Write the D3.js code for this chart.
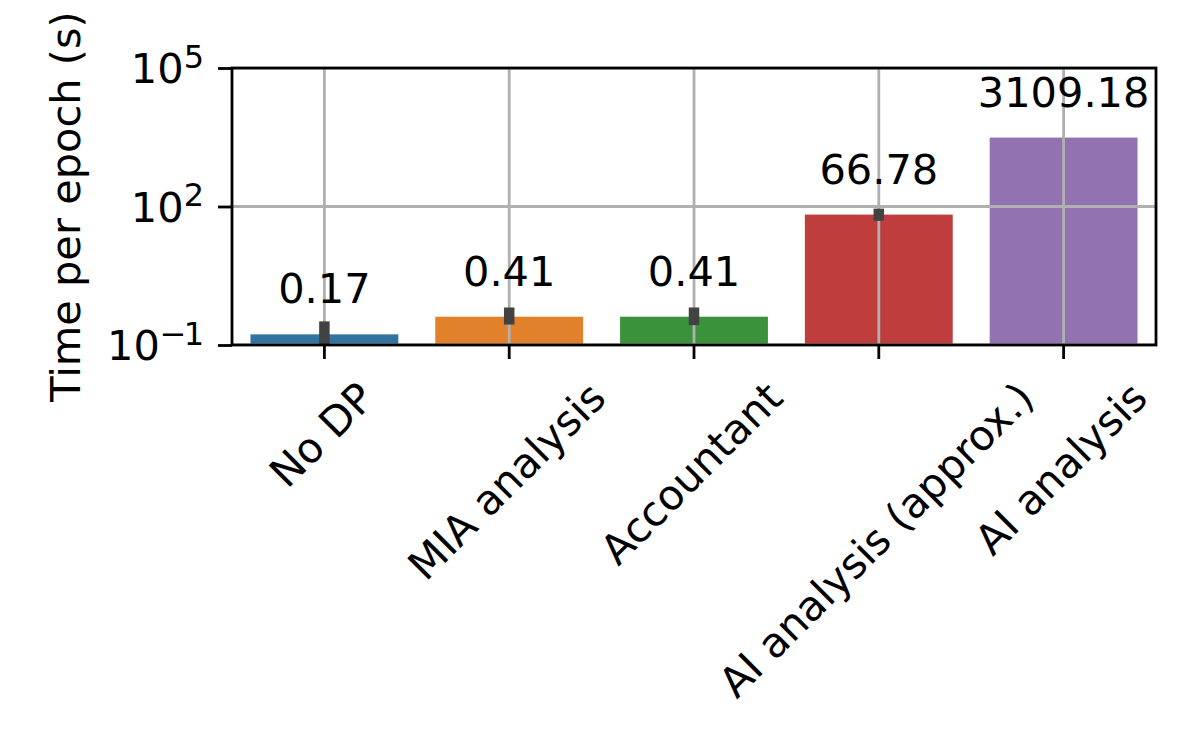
<!DOCTYPE html>
<html>
<head>
<meta charset="utf-8">
<script src="https://cdn.jsdelivr.net/npm/d3@7"></script>
<style>
  body { margin: 0; background: #fff; }
  text { font-family: "DejaVu Sans", sans-serif; }
</style>
</head>
<body>
<svg class="chart"></svg>
<script>
// Data
var categories = ["No DP", "MIA analysis", "Accountant", "AI analysis (approx.)", "AI analysis"];
var meanTime = [0.17, 0.41, 0.41, 66.78, 3109.18];
var errLow = [0.08, 0.36, 0.35, 63.5, null];
var errHigh = [0.25, 0.50, 0.50, 69.2, null];
var yTicks = [0.1, 100, 100000];
var yTickExp = ["\u22121", "2", "5"];
var colors = ["#3274a1", "#e1812c", "#3a923a", "#c03d3e", "#9372b2"];

var data = categories.map(function(c, i) {
  return {name: c, mean: meanTime[i], lo: errLow[i], hi: errHigh[i], color: colors[i]};
});

// Margins and dimensions
var margin = {top: 68, right: 44, bottom: 405, left: 232},
    width = 1200 - margin.left - margin.right,
    height = 750 - margin.top - margin.bottom,
    fs = 41.5;

var x = d3.scaleBand()
    .domain(categories)
    .range([0, width])
    .paddingInner(0.2)
    .paddingOuter(0.1);

var y = d3.scaleLog()
    .domain([0.1, 100000])
    .range([height, 0]);

var svg = d3.select(".chart")
    .attr("width", 1200)
    .attr("height", 750);

var chart = svg.append("g")
    .attr("transform", "translate(" + margin.left + "," + margin.top + ")");

chart.append("clipPath")
    .attr("id", "plotclip")
  .append("rect")
    .attr("width", width)
    .attr("height", height);

// Bars
chart.selectAll(".bar")
    .data(data)
  .enter().append("rect")
    .attr("class", "bar")
    .attr("x", function(d) { return x(d.name); })
    .attr("width", x.bandwidth())
    .attr("y", function(d) { return y(d.mean); })
    .attr("height", function(d) { return height - y(d.mean); })
    .attr("fill", function(d) { return d.color; });

// Grid lines (drawn over bars, like matplotlib)
var grid = chart.append("g").attr("clip-path", "url(#plotclip)");
grid.selectAll(".vgrid")
    .data(categories)
  .enter().append("line")
    .attr("x1", function(d) { return x(d) + x.bandwidth() / 2; })
    .attr("x2", function(d) { return x(d) + x.bandwidth() / 2; })
    .attr("y1", 0)
    .attr("y2", height)
    .attr("stroke", "#b0b0b0")
    .attr("stroke-width", 2.8);
grid.selectAll(".hgrid")
    .data(yTicks)
  .enter().append("line")
    .attr("x1", 0)
    .attr("x2", width)
    .attr("y1", function(d) { return y(d); })
    .attr("y2", function(d) { return y(d); })
    .attr("stroke", "#b0b0b0")
    .attr("stroke-width", 2.8);

// Error bars
chart.append("g").attr("clip-path", "url(#plotclip)")
    .selectAll(".err")
    .data(data.filter(function(d) { return d.lo != null; }))
  .enter().append("line")
    .attr("x1", function(d) { return x(d.name) + x.bandwidth() / 2; })
    .attr("x2", function(d) { return x(d.name) + x.bandwidth() / 2; })
    .attr("y1", function(d) { return y(d.lo); })
    .attr("y2", function(d) { return y(d.hi); })
    .attr("stroke", "#424242")
    .attr("stroke-width", 10.5)
    .attr("stroke-linecap", "square");

// Value labels
chart.selectAll(".val")
    .data(data)
  .enter().append("text")
    .attr("x", function(d) { return x(d.name) + x.bandwidth() / 2; })
    .attr("y", function(d) { return y(d.mean) - 31; })
    .attr("text-anchor", "middle")
    .style("font-size", fs + "px")
    .text(function(d) { return d.mean.toFixed(2); });

// Frame
chart.append("rect")
    .attr("width", width)
    .attr("height", height)
    .attr("fill", "none")
    .attr("stroke", "#000")
    .attr("stroke-width", 2.8);

// x axis ticks
var xAxis = chart.append("g")
    .attr("transform", "translate(0," + height + ")")
    .call(d3.axisBottom(x).tickSize(14).tickFormat(""));
xAxis.select(".domain").remove();
xAxis.selectAll(".tick line").attr("stroke", "#000").attr("stroke-width", 2.8);

// Rotated x labels, bounding box centred under the tick
var a = 0.76 * fs, dsc = 0.24 * fs, c = Math.SQRT1_2, labTop = height + 33;
chart.selectAll(".xlab")
    .data(categories)
  .enter().append("text")
    .attr("text-anchor", "end")
    .style("font-size", fs + "px")
    .text(function(d) { return d; })
    .attr("transform", function(d) {
      var L = this.getComputedTextLength();
      var cx = c * (dsc - L - a) / 2;
      var tx = x(d) + x.bandwidth() / 2 - cx;
      var ty = labTop + c * a;
      return "translate(" + tx + "," + ty + ") rotate(-45)";
    });

// y axis ticks
var yAxis = chart.append("g")
    .call(d3.axisLeft(y).tickValues(yTicks).tickSize(14).tickFormat(""));
yAxis.select(".domain").remove();
yAxis.selectAll(".tick line").attr("stroke", "#000").attr("stroke-width", 2.8);

var ylab = chart.selectAll(".ytl")
    .data(yTicks)
  .enter().append("text")
    .attr("text-anchor", "end")
    .attr("x", -31)
    .attr("y", function(d) { return y(d) + 15; })
    .style("font-size", fs + "px");
ylab.append("tspan").text("10");
ylab.append("tspan")
    .attr("dy", -15.5)
    .style("font-size", "32px")
    .style("letter-spacing", "-3px")
    .text(function(d, i) { return yTickExp[i]; });

// y axis title
chart.append("text")
    .attr("transform", "translate(" + (-152) + "," + (height / 2) + ") rotate(-90)")
    .attr("text-anchor", "middle")
    .style("font-size", fs + "px")
    .text("Time per epoch (s)");
</script>
</body>
</html>
